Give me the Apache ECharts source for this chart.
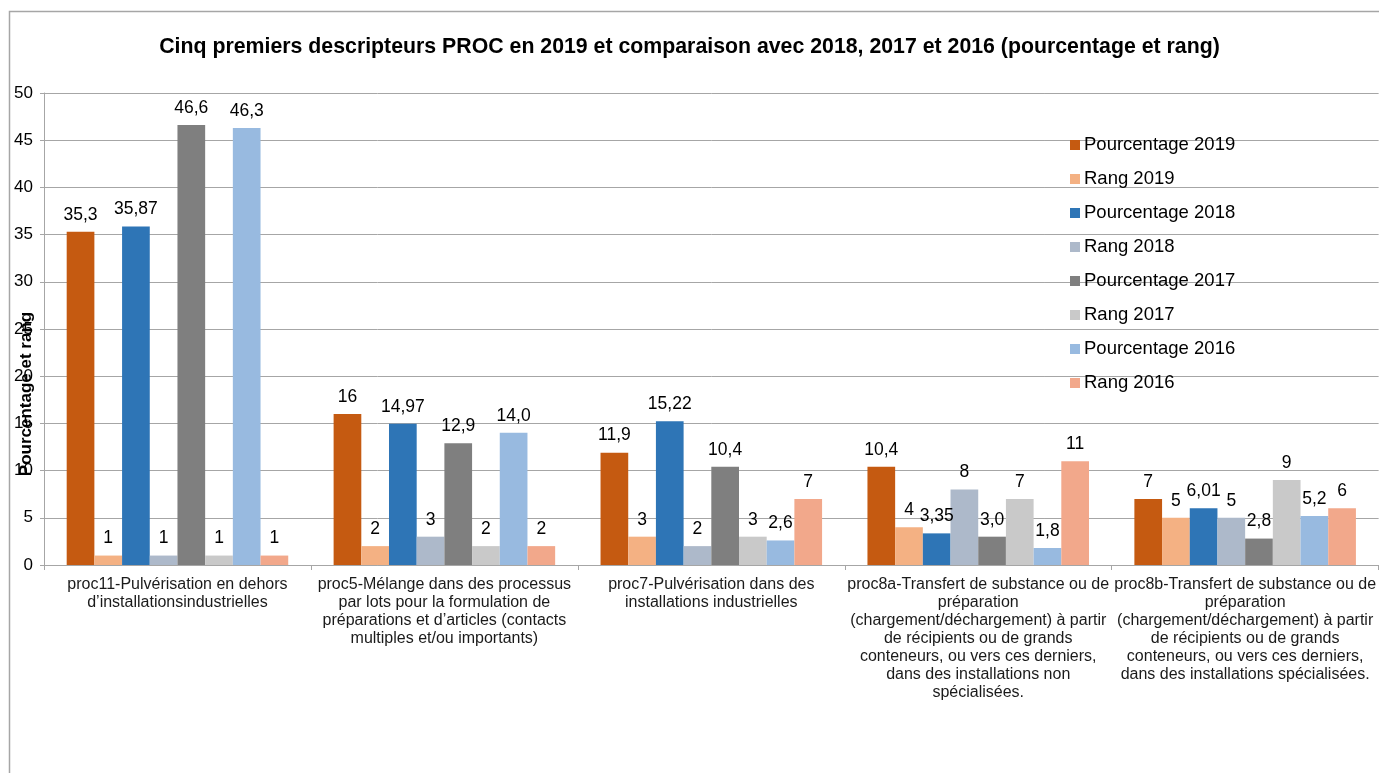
<!DOCTYPE html>
<html>
<head>
<meta charset="utf-8">
<script src="https://cdn.jsdelivr.net/npm/echarts@6/dist/echarts.min.js"></script>
<style>
html,body{margin:0;padding:0;background:#fff;}
#chart{width:1379px;height:773px;}
</style>
</head>
<body>
<div id="chart"></div>
<script>
const categories = [
  "proc11-Pulvérisation en dehors\nd’installationsindustrielles",
  "proc5-Mélange dans des processus\npar lots pour la formulation de\npréparations et d’articles (contacts\nmultiples et/ou importants)",
  "proc7-Pulvérisation dans des\ninstallations industrielles",
  "proc8a-Transfert de substance ou de\npréparation\n(chargement/déchargement) à partir\nde récipients ou de grands\nconteneurs, ou vers ces derniers,\ndans des installations non\nspécialisées.",
  "proc8b-Transfert de substance ou de\npréparation\n(chargement/déchargement) à partir\nde récipients ou de grands\nconteneurs, ou vers ces derniers,\ndans des installations spécialisées."
];
const seriesNames = ["Pourcentage 2019","Rang 2019","Pourcentage 2018","Rang 2018","Pourcentage 2017","Rang 2017","Pourcentage 2016","Rang 2016"];
const pct2019 = [35.3, 16, 11.9, 10.4, 7];
const rang2019 = [1, 2, 3, 4, 5];
const pct2018 = [35.87, 14.97, 15.22, 3.35, 6.01];
const rang2018 = [1, 3, 2, 8, 5];
const pct2017 = [46.6, 12.9, 10.4, 3.0, 2.8];
const rang2017 = [1, 2, 3, 7, 9];
const pct2016 = [46.3, 14.0, 2.6, 1.8, 5.2];
const rang2016 = [1, 2, 7, 11, 6];
const lblPct2019 = ["35,3","16","11,9","10,4","7"];
const lblRang2019 = ["1","2","3","4","5"];
const lblPct2018 = ["35,87","14,97","15,22","3,35","6,01"];
const lblRang2018 = ["1","3","2","8","5"];
const lblPct2017 = ["46,6","12,9","10,4","3,0","2,8"];
const lblRang2017 = ["1","2","3","7","9"];
const lblPct2016 = ["46,3","14,0","2,6","1,8","5,2"];
const lblRang2016 = ["1","2","7","11","6"];
const yTicks = [0,5,10,15,20,25,30,35,40,45,50];

const seriesValues = [pct2019, rang2019, pct2018, rang2018, pct2017, rang2017, pct2016, rang2016];
const seriesLabels = [lblPct2019, lblRang2019, lblPct2018, lblRang2018, lblPct2017, lblRang2017, lblPct2016, lblRang2016];
const colors = ["#C55A11","#F4B183","#2E75B6","#ADB9CA","#7F7F7F","#C9C9C9","#98BAE0","#F2A88B"];

const FONT = "'Liberation Sans', Arial, sans-serif";
const chart = echarts.init(document.getElementById('chart'), null, {renderer:'canvas'});
chart.setOption({
  animation:false,
  backgroundColor:'#fff',
  color: colors,
  title:{
    text:"Cinq premiers descripteurs PROC en 2019 et comparaison avec 2018, 2017 et 2016 (pourcentage et rang)",
    left:'center', top:32,
    textStyle:{fontFamily:FONT, fontWeight:'bold', fontSize:21.3, color:'#000'}
  },
  legend:{
    orient:'vertical', left:1070, top:135, padding:0,
    itemWidth:10, itemHeight:10, itemGap:14,
    icon:'rect',
    textStyle:{fontFamily:FONT, fontSize:18.5, lineHeight:20, color:'#000', padding:[0,0,0,-1]},
    data: seriesNames
  },
  grid:{left:44, right:0, top:93, bottom:208, containLabel:false},
  xAxis:{
    type:'category', data: categories,
    axisLine:{lineStyle:{color:'#A6A6A6'}},
    axisTick:{show:true, length:5, lineStyle:{color:'#A6A6A6'}},
    axisLabel:{interval:0, fontFamily:FONT, fontSize:16, color:'#1a1a1a', lineHeight:18, margin:11, align:'center'}
  },
  yAxis:{
    type:'value', min:0, max:50, interval:5,
    axisLine:{show:true, lineStyle:{color:'#A6A6A6'}},
    axisTick:{show:true, length:4, lineStyle:{color:'#A6A6A6'}},
    splitLine:{lineStyle:{color:'#A6A6A6'}},
    axisLabel:{fontFamily:FONT, fontSize:17, color:'#000', margin:11,
      formatter:(v)=>String(yTicks[yTicks.indexOf(v)])}
  },
  graphic:[
    {type:'rect', shape:{x:9.5, y:11.5, width:1400, height:800}, style:{fill:null, stroke:'#A6A6A6', lineWidth:1.5}, z:-10, silent:true},
    {type:'text', x:26, y:394, rotation:Math.PI/2,
     style:{text:'Pourcentage et rang', font:'bold 17px '+FONT, fill:'#000', textAlign:'center', textVerticalAlign:'middle'}}
  ],
  series: seriesNames.map((name,i)=>({
    name, type:'bar',
    data: seriesValues[i],
    barGap:'0%', barCategoryGap:'17%',
    label:{show:true, position:'top', distance:8, fontFamily:FONT, fontSize:17.5, color:'#000',
      formatter:(p)=>seriesLabels[i][p.dataIndex]}
  }))
});
</script>
</body>
</html>
